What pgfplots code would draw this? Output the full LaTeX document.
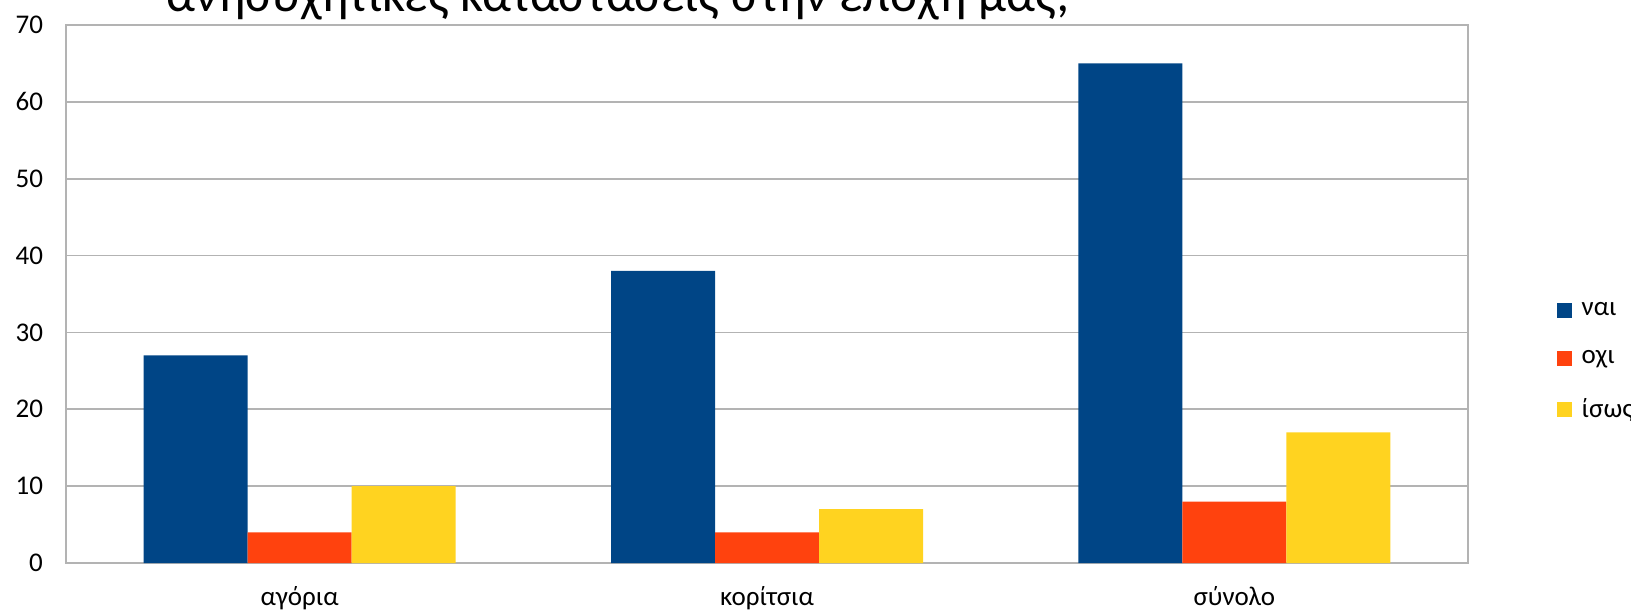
\documentclass[border=0pt]{standalone}
\usepackage{pgfplots}
\pgfplotsset{compat=1.18}
\usepackage{fontspec}
\setmainfont{Carlito}

\definecolor{nai}{HTML}{004586}
\definecolor{oxi}{HTML}{FF420E}
\definecolor{isws}{HTML}{FFD320}
\definecolor{gridgray}{HTML}{B3B3B3}

\begin{document}
\begin{tikzpicture}
% fixed page frame around the plot area
\useasboundingbox (-33pt,-23.5pt) rectangle (782.5pt,281.5pt);
\begin{axis}[
  at={(0,0)}, anchor=south west,
  scale only axis,
  width=701pt, height=269pt,
  ybar=0pt, bar width=52pt,
  xmin=-0.5, xmax=2.5,
  ymin=0, ymax=70,
  ytick={0,10,...,70},
  xtick={0,1,2},
  xticklabels={αγόρια,κορίτσια,σύνολο},
  xticklabel style={yshift=-8pt, font=\fontsize{13.5}{15}\selectfont},
  yticklabel style={xshift=-8pt, font=\fontsize{13.5}{15}\selectfont},
  /pgf/number format/assume math mode=true,
  major tick length=0pt,
  ymajorgrids,
  grid style={gridgray, line width=0.8pt},
  axis line style={gridgray, line width=0.8pt},
  legend style={at={(1.063,0.375)}, anchor=west, draw=none, inner sep=0pt,
    font=\fontsize{13.5}{15}\selectfont, row sep=12pt,
    /tikz/every odd column/.append style={column sep=3pt}},
  legend cell align=left,
  legend image code/.code={\fill[#1] (0pt,-3.75pt) rectangle (7.5pt,3.75pt);},
]
\addplot[fill=nai, draw=none] coordinates {(0,27) (1,38) (2,65)};
\addplot[fill=oxi, draw=none] coordinates {(0,4) (1,4) (2,8)};
\addplot[fill=isws, draw=none] coordinates {(0,10) (1,7) (2,17)};
\legend{ναι,οχι,ίσως}
\end{axis}
% chart title, its upper line falls outside the page
\node[anchor=base, font=\fontsize{25.5}{30}\selectfont, align=center] at (276pt,275.5pt)
  {ανησυχητικές καταστάσεις στην εποχή μας;};
\end{tikzpicture}
\end{document}
